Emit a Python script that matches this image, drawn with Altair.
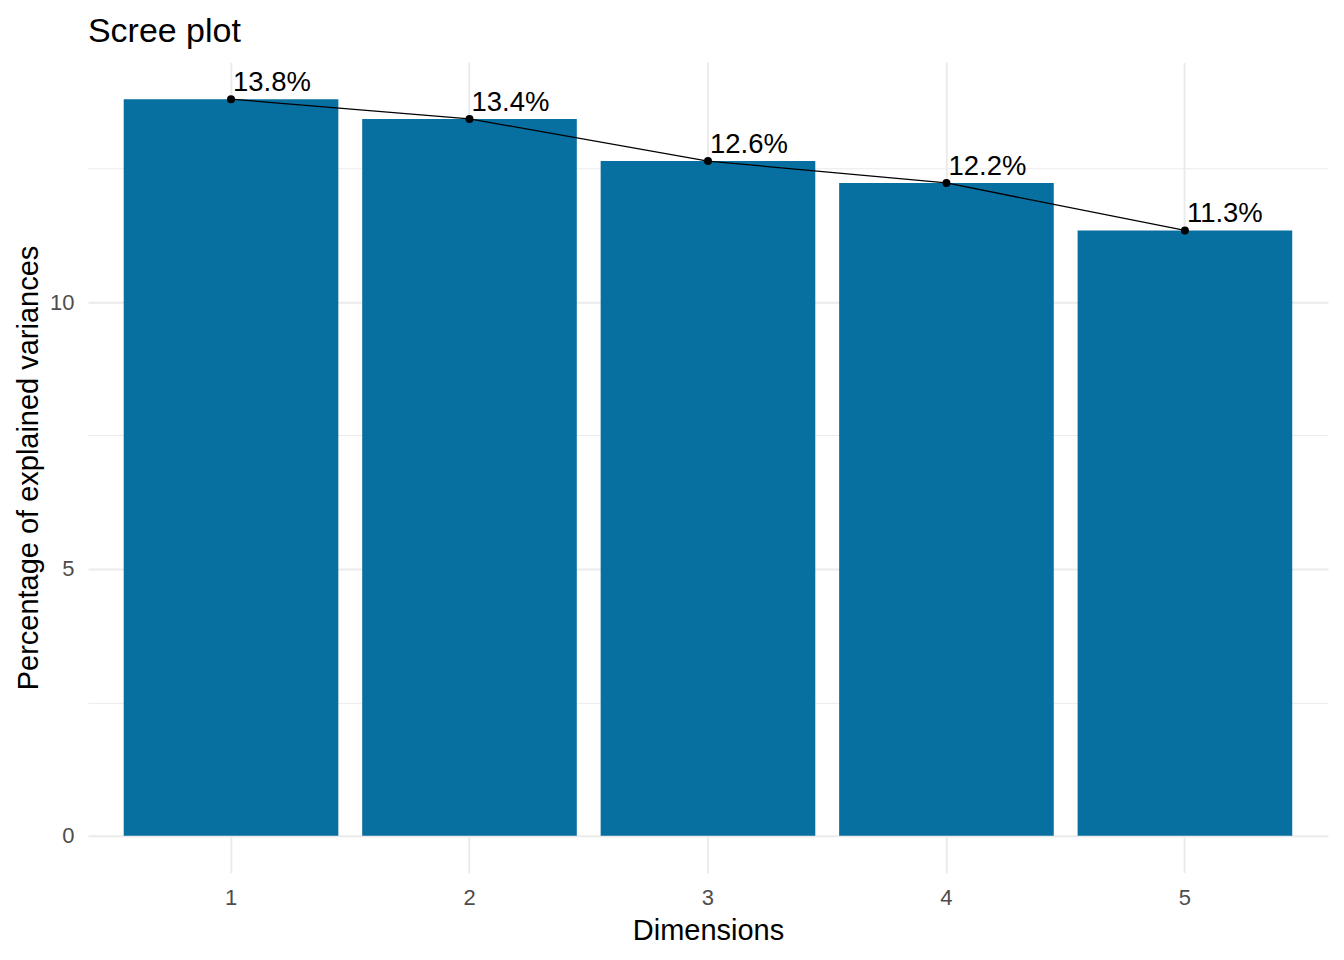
import altair as alt
import pandas as pd

dims = ["1", "2", "3", "4", "5"]
variances = [13.80, 13.43, 12.64, 12.23, 11.34]
labels = ["13.8%", "13.4%", "12.6%", "12.2%", "11.3%"]

df = pd.DataFrame({"dim": dims, "var": variances, "label": labels})

FONT = "Liberation Sans"

x = alt.X(
    "dim:O",
    sort=dims,
    scale=alt.Scale(paddingInner=0.1, paddingOuter=0.15),
    axis=alt.Axis(
        title="Dimensions",
        labelAngle=0,
        ticks=False,
        tickSize=0,
        domain=False,
        labelPadding=25,
        labelBaseline="middle",
        labelFont=FONT,
        labelFontSize=22,
        labelColor="#4D4D4D",
        grid=True,
        gridColor="#EBEBEB",
        gridWidth=2,
        bandPosition=0.5,
        titleFont=FONT,
        titleFontSize=29,
        titleFontWeight="normal",
        titleColor="#000000",
        titleBaseline="alphabetic",
        titleX=620.5,
        titleY=67,
    ),
)

y_scale = alt.Scale(domain=[-0.69, 14.49], nice=False, zero=False)

y_axis = alt.Axis(
    title="Percentage of explained variances",
    values=[0, 2.5, 5, 7.5, 10, 12.5],
    format="d",
    labelExpr="datum.value % 5 == 0 ? datum.label : ''",
    ticks=False,
    tickSize=0,
    domain=False,
    labelPadding=14,
    labelFont=FONT,
    labelFontSize=22,
    labelColor="#4D4D4D",
    grid=True,
    gridColor="#EBEBEB",
    gridWidth={"condition": {"test": "datum.value % 5 == 0", "value": 2}, "value": 1},
    titleFont=FONT,
    titleFontSize=29,
    titleFontWeight="normal",
    titleColor="#000000",
    titleAngle=270,
    titleBaseline="alphabetic",
    titleAlign="center",
    titleX=-50,
    titleY=405.5,
)

base = alt.Chart(df)

bars = base.mark_bar(color="#086FA1").encode(
    x=x,
    y=alt.Y("var:Q", scale=y_scale, axis=y_axis),
    y2=alt.datum(0),
)

line = base.mark_line(color="black", strokeWidth=1.3).encode(
    x=alt.X("dim:O", sort=dims),
    y=alt.Y("var:Q"),
)

points = base.mark_point(filled=True, color="black", size=64, opacity=1).encode(
    x=alt.X("dim:O", sort=dims),
    y=alt.Y("var:Q"),
)

text = base.mark_text(
    align="left", baseline="alphabetic", dx=2, dy=-8,
    font=FONT, fontSize=27.5, color="black",
).encode(
    x=alt.X("dim:O", sort=dims),
    y=alt.Y("var:Q"),
    text="label:N",
)

chart = (
    alt.layer(bars, line, points, text)
    .properties(
        width=1241,
        height=811,
        view=alt.ViewBackground(stroke="transparent", strokeWidth=0),
        title=alt.TitleParams(
            "Scree plot",
            anchor="start",
            frame="group",
            font=FONT,
            fontSize=34,
            fontWeight="normal",
            color="#000000",
            baseline="alphabetic",
            offset=22,
            dy=36,
        ),
        autosize=alt.AutoSizeParams(type="none"),
        padding={"left": 80, "top": 54, "right": 8, "bottom": 80},
    )
    .configure_view(stroke="transparent", strokeWidth=0)
    .configure(background="white")
)

chart.save("out.html", embed_options={"renderer": "svg", "actions": False})
